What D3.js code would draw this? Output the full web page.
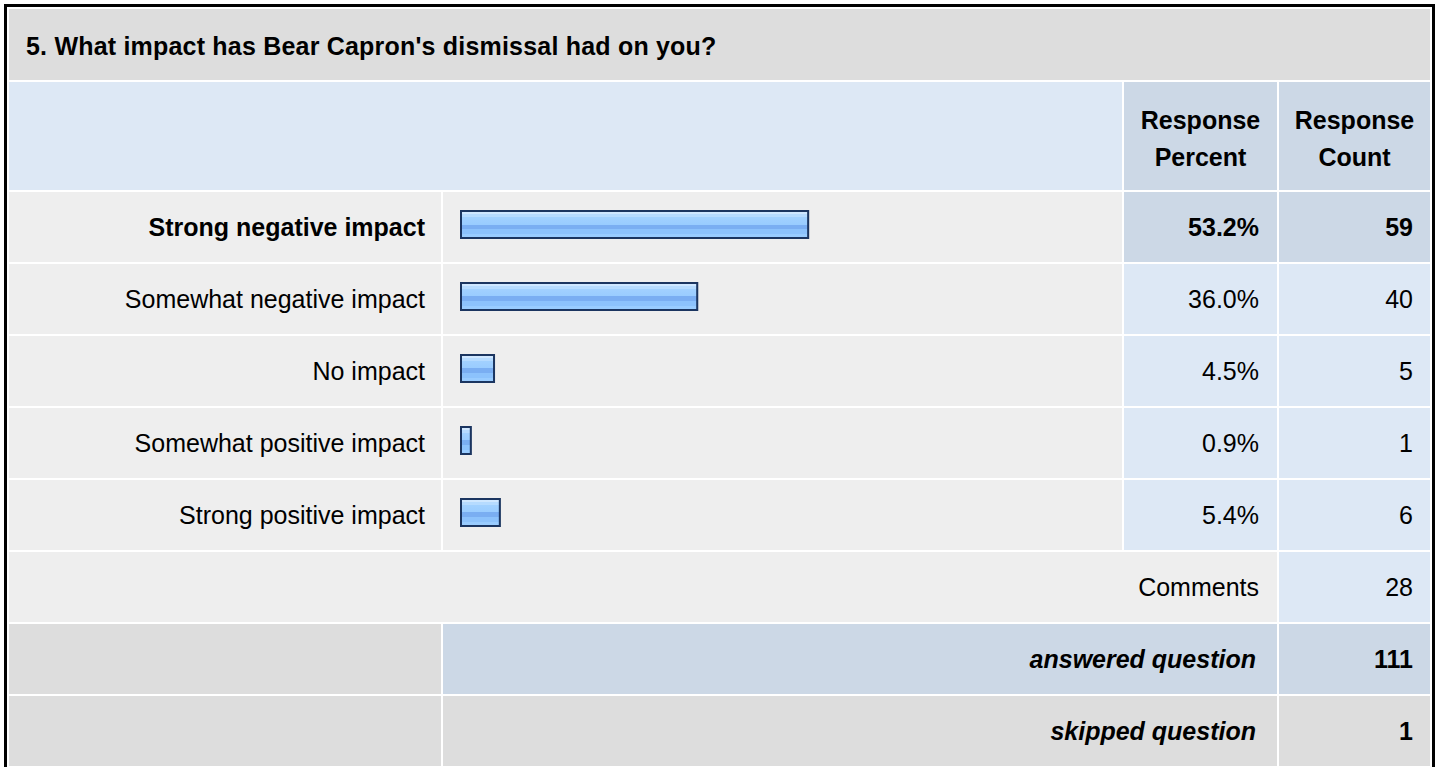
<!DOCTYPE html>
<html>
<head>
<meta charset="utf-8">
<script src="https://cdnjs.cloudflare.com/ajax/libs/d3/7.8.5/d3.min.js"></script>
<style>
    body { margin:0; background:#ffffff; }
    svg text { font-family:'Liberation Sans', Arial, sans-serif; fill:#000000; }
</style>
</head>
<body>
<div class="survey"></div>
<script>
// survey question data
const question = "5. What impact has Bear Capron's dismissal had on you?";
const answers = ['Strong negative impact','Somewhat negative impact','No impact','Somewhat positive impact','Strong positive impact'];
const percents = [53.2, 36.0, 4.5, 0.9, 5.4];
const counts = [59, 40, 5, 1, 6];
const headerLabels = [['Response','Percent'],['Response','Count']];
const summaryLabels = ['Comments','answered question','skipped question'];
const summaryCounts = [28, 111, 1];

const fontSize = 25;
const width = 1440, height = 767;

// table layout: column edges and row heights, 2px spacing like an html table
const spacing = 2;
const cols = [[9,441],[443,1122],[1124,1277],[1279,1430]];
const titleTop = 9, titleHeight = 71;
const headerHeight = 108;
const rowHeight = 70;

const maxPercent = d3.max(percents);

var svg = d3.select('.survey').append('svg')
        .attr('width',width)
        .attr('height',height)

// bar gradient, glossy blue stripes
var defs = svg.append('defs')
var grad = defs.append('linearGradient')
        .attr('id','barFill')
        .attr('x1',0).attr('y1',0).attr('x2',0).attr('y2',1)
const stops = [
    [0,'#cfe7ff'],[0.1,'#cfe7ff'],[0.1,'#b6dbff'],[0.22,'#b6dbff'],[0.22,'#a2d1ff'],
    [0.5,'#99ccff'],[0.5,'#7aaef2'],[0.68,'#7aaef2'],[0.68,'#8cc2fc'],[0.84,'#8cc2fc'],
    [0.84,'#99ccff'],[1,'#99ccff']
]
grad.selectAll('stop')
        .data(stops)
    .enter().append('stop')
        .attr('offset',function(d){ return d[0] })
        .attr('stop-color',function(d){ return d[1] })

function cell(x0,x1,y,h,fill){
    svg.append('rect')
        .attr('x',x0)
        .attr('y',y)
        .attr('width',x1 - x0)
        .attr('height',h)
        .style('fill',fill)
}

function label(x,y,txt,anchor,weight,style){
    return svg.append('text')
        .attr('x',x)
        .attr('y',y)
        .attr('dy','0.36em')
        .style('font-size',fontSize + 'px')
        .style('font-weight',weight || 'normal')
        .style('font-style',style || 'normal')
        .style('text-anchor',anchor)
        .text(txt)
}

//title row
cell(cols[0][0],cols[3][1],titleTop,titleHeight,'#dddddd')
label(26,titleTop + titleHeight / 2 + 1,question,'start','bold')
        .style('letter-spacing','0.2px')

//header row
var headerTop = titleTop + titleHeight + spacing
cell(cols[0][0],cols[1][1],headerTop,headerHeight,'#dde8f5')
headerLabels.forEach(function(lines,i){
    var c = cols[i + 2]
    cell(c[0],c[1],headerTop,headerHeight,'#ccd8e6')
    var t = svg.append('text')
            .style('font-size',fontSize + 'px')
            .style('font-weight','bold')
            .style('text-anchor','middle')
    t.selectAll('tspan')
            .data(lines)
        .enter().append('tspan')
            .attr('x',(c[0] + c[1]) / 2)
            .attr('y',function(d,j){ return headerTop + headerHeight / 2 - 16 + j * 36.5 })
            .attr('dy','0.36em')
            .text(function(d){ return d })
})

//answer rows
var rowsTop = headerTop + headerHeight + spacing
var yScale = d3.scaleBand()
        .domain(d3.range(answers.length + summaryLabels.length))
        .range([rowsTop,rowsTop + (answers.length + summaryLabels.length) * (rowHeight + spacing)])
        .paddingInner(0)

var xScale = d3.scaleLinear()
        .domain([0,100])
        .range([0,645])

const barLeft = 460
const barHeight = 29

answers.forEach(function(a,i){
    var y = yScale(i)
    var isMax = percents[i] === maxPercent
    var weight = isMax ? 'bold' : 'normal'
    cell(cols[0][0],cols[0][1],y,rowHeight,'#eeeeee')
    cell(cols[1][0],cols[1][1],y,rowHeight,'#eeeeee')
    cell(cols[2][0],cols[2][1],y,rowHeight,isMax ? '#ccd8e6' : '#dde8f5')
    cell(cols[3][0],cols[3][1],y,rowHeight,isMax ? '#ccd8e6' : '#dde8f5')
    label(cols[0][1] - 16,y + rowHeight / 2,a,'end',weight)
    label(cols[2][1] - 18,y + rowHeight / 2,percents[i].toFixed(1) + '%','end',weight)
    label(cols[3][1] - 17,y + rowHeight / 2,counts[i],'end',weight)
})

//draw bars, soft shadow edge then the bordered glossy bar
var bars = svg.selectAll('.bar')
        .data(percents)
    .enter().append('g')
        .attr('class','bar')
        .attr('transform',function(d,i){
            return 'translate(' + barLeft + ',' + (yScale(i) + 18) + ')'
        })

bars.append('rect')
        .attr('x',0.5)
        .attr('y',0.5)
        .attr('width',function(d){ return xScale(d) + 5 })
        .attr('height',barHeight - 1)
        .style('fill','none')
        .style('stroke','#9aa6b4')
        .style('stroke-width',1)

bars.append('rect')
        .attr('x',1)
        .attr('y',1)
        .attr('width',function(d){ return xScale(d) + 4 })
        .attr('height',barHeight - 2)
        .style('fill','url(#barFill)')
        .style('stroke','#1b3560')
        .style('stroke-width',2)

//summary rows
var summaryFills = [
    ['#eeeeee','#eeeeee','#dde8f5'],
    ['#dddddd','#ccd8e6','#ccd8e6'],
    ['#dddddd','#dddddd','#dddddd']
]
summaryLabels.forEach(function(s,k){
    var y = yScale(answers.length + k)
    var fills = summaryFills[k]
    if (k === 0){
        cell(cols[0][0],cols[2][1],y,rowHeight,fills[0])
        label(cols[2][1] - 18,y + rowHeight / 2,s,'end')
        cell(cols[3][0],cols[3][1],y,rowHeight,fills[2])
        label(cols[3][1] - 17,y + rowHeight / 2,summaryCounts[k],'end')
    } else {
        cell(cols[0][0],cols[0][1],y,rowHeight,fills[0])
        cell(cols[1][0],cols[2][1],y,rowHeight,fills[1])
        cell(cols[3][0],cols[3][1],y,rowHeight,fills[2])
        label(cols[2][1] - 21,y + rowHeight / 2,s,'end','bold','italic')
        label(cols[3][1] - 17,y + rowHeight / 2,summaryCounts[k],'end','bold')
    }
})

//outer black frame, bottom runs past the window
svg.append('rect')
        .attr('x',5.5)
        .attr('y',5.5)
        .attr('width',1428)
        .attr('height',800)
        .style('fill','none')
        .style('stroke','#000000')
        .style('stroke-width',3)
</script>
</body>
</html>
